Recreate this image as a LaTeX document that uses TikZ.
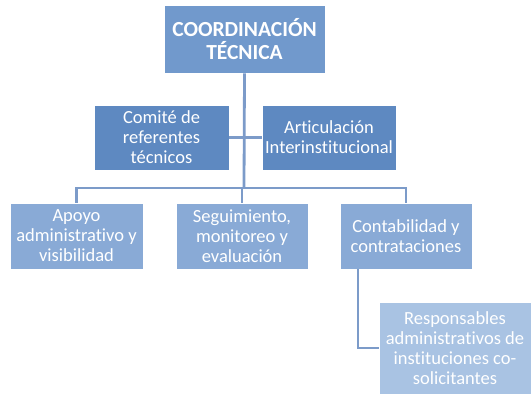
\documentclass[tikz,border=0pt]{standalone}
\usepackage{fontspec}
\setmainfont[Ligatures={NoCommon}]{Carlito}
\definecolor{topblue}{HTML}{7199CC}
\definecolor{midblue}{HTML}{5E89C1}
\definecolor{lowblue}{HTML}{89AAD6}
\definecolor{paleblue}{HTML}{A9C3E3}
\definecolor{linkblue}{HTML}{7C9BC9}
\tikzset{
    box/.style={fill=#1, draw=white, line width=0.8pt, text=white, align=center,
        inner sep=1pt, font=\fontsize{18.5}{20}\selectfont},
    link/.style={draw=linkblue, line width=2.8pt},
}
\begin{document}
  \begin{tikzpicture}[x=1pt, y=-1pt]
    \useasboundingbox (0, 0) rectangle (531, 394) ;
    \node[box=topblue, minimum width=161pt, minimum height=68pt,
        font=\fontsize{21.5}{23}\selectfont\bfseries] (top) at (244.5, 39) {COORDINACIÓN\\TÉCNICA} ;
    \node[box=midblue, minimum width=135pt, minimum height=65pt] (comite) at (161.5, 137.5) {Comité de\\referentes\\técnicos} ;
    \node[box=midblue, minimum width=134pt, minimum height=65pt] (artic) at (329, 137.5) {Articulación\\Interinstitucional} ;
    \node[box=lowblue, minimum width=133pt, minimum height=66pt] (apoyo) at (76.5, 236) {Apoyo\\administrativo y\\visibilidad} ;
    \node[box=lowblue, minimum width=132pt, minimum height=66pt] (segui) at (242, 236) {Seguimiento,\\monitoreo y\\evaluación} ;
    \node[box=lowblue, minimum width=132pt, minimum height=66pt] (conta) at (406, 236) {Contabilidad y\\contrataciones} ;
    \node[box=paleblue, minimum width=152pt, minimum height=92pt] (resp) at (455, 348) {Responsables\\administrativos de\\instituciones co-\\solicitantes} ;
    \coordinate (bus) at (244, 188) ;
    \draw[link] (top.south) -- (bus) ;
    \draw[link] (comite.east) -- (artic.west) ;
    \draw[link] (apoyo.north) -- (apoyo.north |- bus) -- (conta.north |- bus) -- (conta.north) ;
    \draw[link] (segui.north) -- (segui.north |- bus) ;
    \draw[link] ([xshift=-48pt]conta.south) |- (resp.west) ;
  \end{tikzpicture}
\end{document}
